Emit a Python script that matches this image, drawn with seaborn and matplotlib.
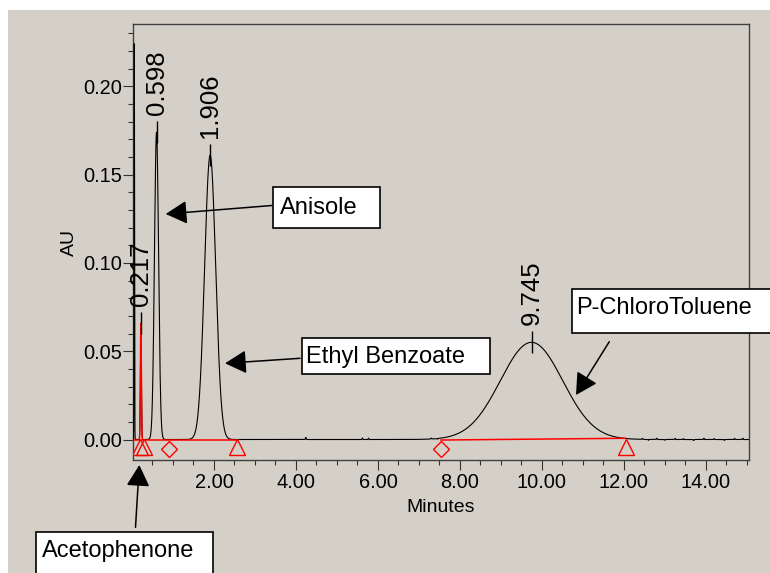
import numpy as np
import pandas as pd
import seaborn as sns
import matplotlib
matplotlib.use("Agg")
import matplotlib.pyplot as plt
from matplotlib.patches import Rectangle, FancyArrowPatch
from matplotlib.ticker import FixedLocator, FormatStrFormatter

# ---- chromatogram peaks (retention time in minutes, apex height in AU, width) ----
peak_names = ["Acetophenone", "Anisole", "Ethyl Benzoate", "P-ChloroToluene"]
peak_rt = [0.217, 0.598, 1.906, 9.745]
peak_height = [0.066, 0.174, 0.161, 0.055]
peak_sigma = [0.012, 0.050, 0.135, 0.76]

# injection disturbance right at the start of the run
inject_rt = [0.056]
inject_height = [0.224]
inject_sigma = [0.006]

# small detector blips on the baseline
blip_t = [4.24, 5.62, 5.77, 7.30, 7.45, 12.45, 12.60, 12.80, 13.00, 13.25,
          13.45, 13.70, 13.95, 14.20, 14.45, 14.70, 14.90]
blip_h = [0.0012, 0.0009, 0.0008, 0.0005, -0.0004, 0.0006, -0.0005, 0.0007,
          -0.0004, 0.0006, 0.0005, -0.0006, 0.0007, 0.0005, -0.0005, 0.0006,
          0.0007]

# integration baselines: (start, end) times and levels
base_start_t = [0.04, 7.53]
base_end_t = [2.55, 12.04]
base_start_v = [-0.0003, -0.0003]
base_end_v = [-0.0003, 0.0007]

# integration event markers
tri_t = [0.195, 0.285, 2.55, 12.04]
tri_v = [-0.0042, -0.0042, -0.0042, -0.0042]
dia_t = [0.91, 7.53]
dia_v = [-0.0054, -0.0054]

x_major = [2, 4, 6, 8, 10, 12, 14]
y_major = [0.00, 0.05, 0.10, 0.15, 0.20]

W, H = 770, 573
BG = "#d4d0c8"

sns.set_style("ticks")
plt.rcParams["font.family"] = ["Liberation Sans", "DejaVu Sans"]
plt.rcParams["text.color"] = "black"
plt.rcParams["axes.labelcolor"] = "black"

# ---- build the detector trace from the peak table ----
t = np.arange(0.0, 15.06, 0.002)
signal = np.zeros_like(t)
for rt, h, s in zip(peak_rt + inject_rt + blip_t,
                    peak_height + inject_height + blip_h,
                    peak_sigma + inject_sigma + [0.008] * len(blip_t)):
    signal += h * np.exp(-0.5 * ((t - rt) / s) ** 2)
trace = pd.DataFrame({"Minutes": t, "AU": signal})

fig = plt.figure(figsize=(W / 100, H / 100), dpi=100, facecolor="white")
fig.add_artist(Rectangle((8 / W, 0), 1 - 8 / W, 1 - 10 / H, transform=fig.transFigure,
                         facecolor=BG, edgecolor="none", zorder=-10))

ax = fig.add_axes([133 / W, 1 - 460 / H, (749 - 133) / W, (460 - 24) / H])
ax.set_facecolor(BG)

sns.lineplot(data=trace, x="Minutes", y="AU", color="black", lw=0.8,
             estimator=None, sort=False, ax=ax, zorder=3)

# acetophenone peak integrated in red
mask = (t > 0.17) & (t < 0.27)
ax.plot(t[mask], signal[mask], color="red", lw=1.0, zorder=5)

# integration baselines
for a, b, va, vb in zip(base_start_t, base_end_t, base_start_v, base_end_v):
    ax.plot([a, b], [va, vb], color="red", lw=1.1, zorder=4)

ax.plot(tri_t, tri_v, linestyle="none", marker="^", ms=11.8, mfc="none",
        mec="red", mew=1.0, zorder=6)
ax.plot(dia_t, dia_v, linestyle="none", marker="D", ms=8.0, mfc="none",
        mec="red", mew=1.0, zorder=6)

# apex ticks and retention-time labels
ax.plot(peak_rt, peak_height, linestyle="none", marker="|", ms=16.5,
        mew=1.0, color="black", zorder=6)
for rt, h in zip(peak_rt, peak_height):
    ax.annotate(f"{rt:.3f}", xy=(rt, h), xytext=(0, 12.5),
                textcoords="offset points", rotation=90, ha="center",
                va="bottom", fontsize=18.5, color="black")

ax.set_xlim(1 / 41, 15.05)
ax.set_ylim(-0.0116, 0.2352)

ax.xaxis.set_major_locator(FixedLocator(x_major))
ax.xaxis.set_major_formatter(FormatStrFormatter("%.2f"))
ax.xaxis.set_minor_locator(FixedLocator(np.arange(0.5, 15.01, 0.5)))
ax.yaxis.set_major_locator(FixedLocator(y_major))
ax.yaxis.set_major_formatter(FormatStrFormatter("%.2f"))
ax.yaxis.set_minor_locator(FixedLocator(np.arange(0.01, 0.231, 0.01)))

ax.tick_params(which="major", direction="out", length=7.5, width=0.8,
               color="#333333", labelsize=14.4, labelcolor="black")
ax.tick_params(axis="x", which="major", pad=2)
ax.tick_params(axis="y", which="major", pad=0.5)
ax.tick_params(which="minor", direction="out", length=3.8, width=0.8,
               color="#333333")

ax.set_xlabel("Minutes", fontsize=14, labelpad=4.8, color="black")
ax.set_ylabel("AU", fontsize=14, labelpad=4, color="black")

for side in ["left", "right", "top", "bottom"]:
    ax.spines[side].set_visible(True)
    ax.spines[side].set_color("#404040")
    ax.spines[side].set_linewidth(1.0)


def fx(x):
    return x / W


def fy(y):
    return 1 - y / H


# compound call-out boxes: (text, box left, top, right, bottom, text x, baseline)
callouts = [
    ("Anisole", 273.3, 187.3, 380.0, 228.3, 279.5, 214.5),
    ("Ethyl Benzoate", 301.7, 337.7, 490.0, 374.0, 306.5, 363.3),
    ("P-ChloroToluene", 571.7, 289.0, 790.0, 333.3, 576.5, 314.0),
    ("Acetophenone", 36.0, 532.3, 213.3, 600.0, 41.5, 557.3),
]
for label, x0, y0, x1, y1, tx, ty in callouts:
    fig.add_artist(Rectangle((fx(x0), fy(y1)), fx(x1 - x0), (y1 - y0) / H,
                             transform=fig.transFigure, facecolor="white",
                             edgecolor="black", lw=1.2, zorder=20))
    fig.text(fx(tx), fy(ty), label, fontsize=17, va="baseline", ha="left",
             color="black", zorder=21)

# arrows from call-outs to peaks: (start, tip)
arrows = [
    ((272.0, 205.5), (165.7, 214.0)),
    ((300.0, 358.3), (225.0, 363.3)),
    ((609.3, 341.7), (576.0, 395.0)),
    ((135.5, 527.3), (139.3, 465.0)),
]
for (sx, sy), (ex, ey) in arrows:
    fig.add_artist(FancyArrowPatch((fx(sx), fy(sy)), (fx(ex), fy(ey)),
                                   transform=fig.transFigure,
                                   arrowstyle="-|>,head_length=0.55,head_width=0.3",
                                   mutation_scale=24, color="black", lw=1.1,
                                   shrinkA=0, shrinkB=0, zorder=19))

fig.savefig("out.png", dpi=100, facecolor=fig.get_facecolor())
